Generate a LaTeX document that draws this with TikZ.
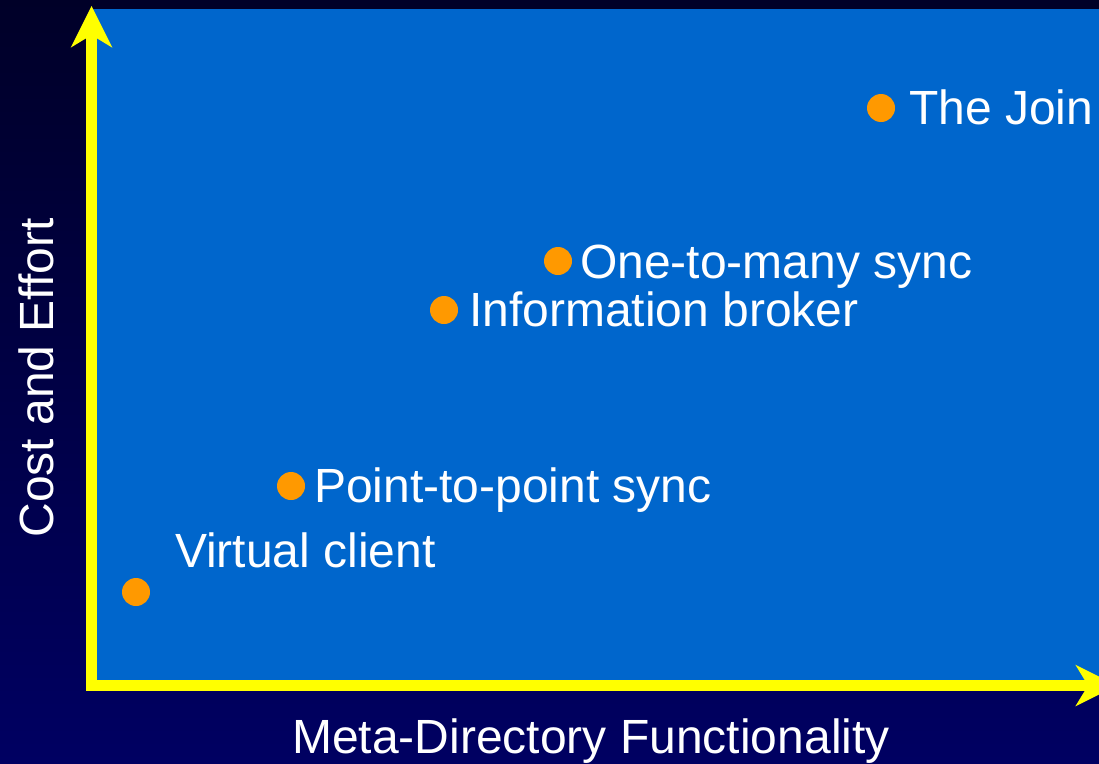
\documentclass[tikz,border=0pt]{standalone}
\usepackage{fontspec}
\setmainfont{Liberation Sans}
\usetikzlibrary{arrows.meta}
\definecolor{plotblue}{RGB}{0,102,204}
\definecolor{dotorange}{RGB}{255,153,0}
\definecolor{axisyellow}{RGB}{255,255,0}
\definecolor{bgtop}{RGB}{0,0,40}
\definecolor{bgbottom}{RGB}{0,0,98}
\tikzset{
  every node/.style={inner sep=0pt, outer sep=0pt},
  label/.style={text=white, font=\fontsize{48}{56}\selectfont, anchor=base west},
  axislabel/.style={text=white, font=\fontsize{48}{56}\selectfont, anchor=base},
  marker/.style={circle, fill=dotorange, minimum size=28pt},
  axis/.style={draw=axisyellow, line width=11pt, miter limit=10,
    {Stealth[length=41.7pt 0, width=41.7pt 0, inset=12.7pt 0, line width=0pt]}-%
    {Stealth[length=41.7pt 0, width=41.7pt 0, inset=12.7pt 0, line width=0pt]}},
}
\begin{document}
\begin{tikzpicture}[x=1pt, y=-1pt]
  % canvas with vertical navy gradient
  \shade[top color=bgtop, bottom color=bgbottom] (0,0) rectangle (1099,763);
  \useasboundingbox (0,0) rectangle (1099,763);
  % plot area
  \fill[plotblue] (91.5,9) rectangle (1120,685.5);

  % axes
  \coordinate (ytip) at (91.5,6);
  \coordinate (xtip) at (1117,685.5);
  \draw[axis] (ytip) |- (xtip);

  % axis titles
  \node[axislabel] (xlab) at (591,753.5) {Meta-Directory Functionality};
  \node[axislabel, rotate=90] (ylab) at (53,378) {Cost and Effort};

  % data points
  \node[marker] (join) at (881,108) {};
  \node[label] (joint) at (909,124) {The Join};

  \node[marker] (otm) at (558,261) {};
  \node[label] (otmt) at (580,278) {One-to-many sync};

  \node[marker] (ib) at (444,310) {};
  \node[label] (ibt) at (469,326) {Information broker};

  \node[marker] (ptp) at (291,486) {};
  \node[label] (ptpt) at (314,502) {Point-to-point sync};

  \node[marker] (vc) at (136,592) {};
  \node[label] (vct) at (175,567) {Virtual client};
\end{tikzpicture}
\end{document}
